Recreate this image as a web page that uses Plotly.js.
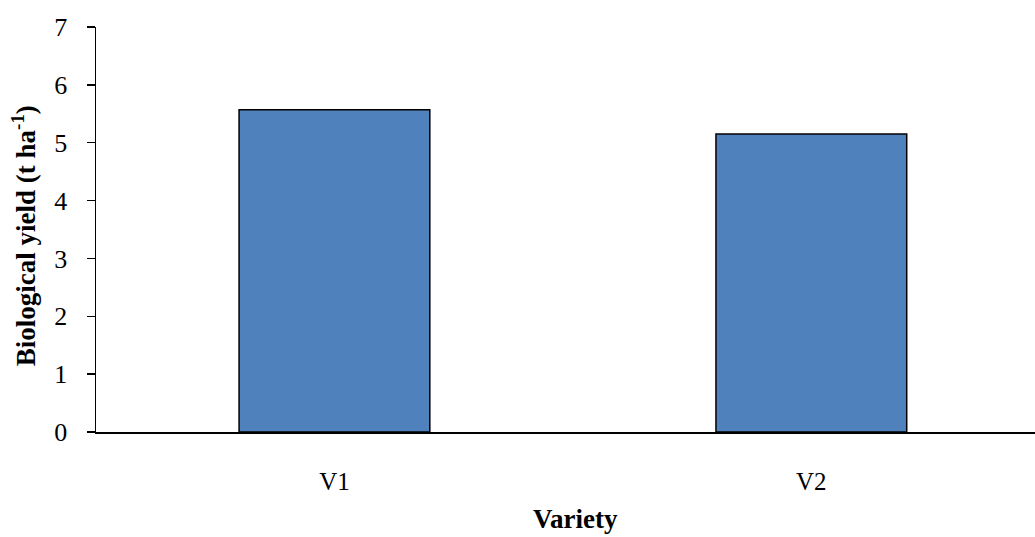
<!DOCTYPE html>
<html>
<head>
<meta charset="utf-8">
<script src="https://cdn.plot.ly/plotly-3.0.1.min.js"></script>
<style>html,body{margin:0;padding:0;background:#fff;overflow:hidden;}</style>
</head>
<body>
<div id="chart" style="width:1035px;height:537px;"></div>
<script>
const categories = ["V1", "V2"];
const tickLabels = ["V1", "V2"];
const yieldValues = [5.57, 5.15];
const yTicks = [0, 1, 2, 3, 4, 5, 6, 7];
const xTitle = "<b>Variety</b>";
const yTitle = "<b>Biological yield (t ha<sup>-1</sup>)</b>";

const trace = {
  type: "bar",
  x: categories,
  y: yieldValues,
  width: 0.4,
  marker: { color: "#4F81BD", line: { color: "#000000", width: 1.5 } },
  hoverinfo: "skip"
};

const layout = {
  width: 1035,
  height: 537,
  margin: { l: 96, r: 0, t: 27, b: 105 },
  paper_bgcolor: "#ffffff",
  plot_bgcolor: "#ffffff",
  showlegend: false,
  font: { family: "Liberation Serif, Times New Roman, serif", color: "#000000", size: 26 },
  xaxis: {
    type: "category",
    range: [-0.5, 1.469],
    tickvals: categories,
    ticktext: tickLabels,
    ticks: "",
    showline: true,
    linecolor: "#000000",
    linewidth: 1.5,
    showgrid: false,
    zeroline: false,
    ticklabelstandoff: 26,
    tickfont: { size: 25 }
  },
  yaxis: {
    range: [0, 7],
    tickvals: yTicks,
    ticks: "outside",
    ticklen: 8,
    tickwidth: 1.5,
    tickcolor: "#000000",
    showline: true,
    linecolor: "#000000",
    linewidth: 1.5,
    showgrid: false,
    zeroline: false,
    ticklabelstandoff: 14,
    tickfont: { size: 26 }
  },
  annotations: [
    {
      text: xTitle, showarrow: false,
      xref: "paper", yref: "paper",
      x: 0.511, y: -0.215, xanchor: "center", yanchor: "middle",
      borderpad: 0,
      font: { size: 27 }
    },
    {
      text: yTitle, showarrow: false, textangle: -90,
      xref: "paper", yref: "paper",
      x: -0.0767, y: 0.486, xanchor: "center", yanchor: "middle",
      font: { size: 27 }
    }
  ]
};

Plotly.newPlot("chart", [trace], layout, { displayModeBar: false, staticPlot: true });
</script>
</body>
</html>
